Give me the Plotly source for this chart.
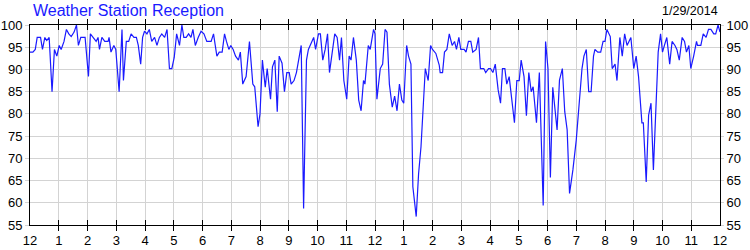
import plotly.graph_objects as go

# minutes after midnight
minutes = [
    0, 6, 11, 15, 22, 26, 31, 35, 40, 46, 51, 56, 61, 65, 71, 76, 81, 86, 92, 97,
    101, 106, 115, 122, 126, 132, 138, 142, 145, 150, 156, 163, 165, 169, 175, 179, 186, 192, 195, 201,
    206, 211, 217, 222, 226, 231, 235, 239, 244, 249, 254, 260, 265, 270, 275, 281, 286, 291, 296, 301,
    306, 312, 317, 321, 326, 331, 336, 340, 345, 351, 357, 363, 369, 378, 383, 390, 395, 401, 406, 410,
    415, 419, 424, 429, 435, 439, 444, 451, 458, 465, 469, 476,
    480, 485, 491, 495, 502, 506, 511, 516, 520, 526, 531, 536, 541, 545, 551, 556, 561, 566, 571, 577,
    581, 587, 592, 596, 602, 606, 611, 616, 621, 625, 631, 636, 641, 646, 650, 655, 661, 666, 670, 675,
    681, 686, 691, 696, 699, 706, 710, 717, 720, 724, 731, 736, 741, 745, 750, 756, 761, 766, 771, 776,
    780, 786, 790, 795, 799, 806, 811, 816, 821, 825, 831, 836, 840, 847, 854, 856, 861, 865, 870, 875,
    881, 886, 890, 895, 899, 906, 910, 915, 920, 924, 931, 936, 940, 947, 951, 957,
    961, 966, 971, 977, 982, 986, 991, 995, 1000, 1006, 1011, 1016, 1021, 1025, 1031, 1036, 1041, 1046, 1050, 1057,
    1063, 1071, 1076, 1081, 1086, 1091, 1096, 1100, 1105, 1111, 1116, 1121, 1126, 1133, 1140, 1147, 1152, 1156, 1161, 1166,
    1171, 1176, 1179, 1185, 1191, 1196, 1200, 1204, 1211, 1215, 1221, 1225, 1231, 1236, 1241, 1246, 1254, 1260, 1265, 1270,
    1277, 1280, 1286, 1291, 1296, 1301, 1307, 1311, 1316, 1320, 1324, 1329, 1335, 1340, 1346, 1350, 1355, 1361, 1366, 1370,
    1375, 1379, 1385, 1391, 1393, 1400, 1405, 1411, 1416, 1421, 1427, 1431, 1436, 1440,
]

reception = [
    93.9, 93.9, 94.5, 97.2, 97.2, 94.5, 97.2, 96.5, 97.2, 85, 94.5, 93, 95.4, 94.5, 96.3, 99, 98, 97.4, 98.4, 100,
    95.4, 97.2, 97.2, 88.4, 98, 97, 96.3, 97.2, 94.5, 97.2, 96.3, 96.3, 97.2, 93.9, 95.4, 94.5, 85, 99, 87.5, 96.3,
    96.3, 98, 97.2, 97.2, 95.4, 91.2, 97.2, 98.6, 98, 99, 96.3, 97.2, 95.4, 97.2, 98, 97.2, 99, 90.2, 90.2, 92.7,
    98, 95.4, 100, 97.2, 97.2, 98, 97.2, 99, 95.4, 97.2, 98.6, 98, 96.3, 96.3, 98, 93, 93.9, 93.9, 98, 96.3,
    94.5, 95.4, 94.5, 93, 92.1, 93.9, 86.7, 88.4, 96.3, 86.7, 86.1, 77.1,
    80, 92.1, 86, 90.2, 83.3, 90.6, 92.1, 80.5, 93, 91.4, 85, 89.3, 89.3, 86.7, 87.5, 89.3, 92.1, 95.4, 58.7, 92.1,
    94.5, 95.9, 97.2, 94.5, 98, 98, 92.1, 94.5, 98, 89.3, 94.5, 98, 97.2, 92.1, 97.2, 87.5, 83.3, 93, 92.1, 97.2,
    92.1, 83.1, 80.7, 87.5, 86.7, 95.4, 94.5, 99, 98, 83.3, 90.2, 91.2, 99, 98.4, 86.7, 81.5, 84, 80.7, 86.7, 83.1,
    82.4, 95.4, 93, 91.2, 63.6, 56.9, 66.6, 72.6, 82.4, 90.2, 87.5, 95.4, 94.5, 93.6, 91, 89.3, 89.3, 93.9, 94.5, 98,
    95.4, 96.3, 94.5, 97.2, 94.5, 94.5, 93.9, 96.3, 96.3, 93.9, 94.5, 97.2, 90.2, 90.2, 89.3, 90.2,
    90.2, 89.3, 91.2, 85.4, 82.4, 90.2, 90.2, 86.7, 88.4, 82.4, 78, 87.5, 87.5, 92.1, 88.4, 79.6, 89.3, 85, 86.1, 78,
    89.3, 59.4, 96.3, 90.2, 65.7, 86, 80, 76.4, 87.6, 90.2, 80.5, 76.4, 62.1, 67.4, 74.1, 83.9, 90.2, 93, 94.5, 85,
    85, 93, 94.5, 93.9, 93.9, 96.3, 96.3, 99, 97.4, 90.2, 91.2, 87.5, 97.2, 93, 98, 95.4, 97.2, 90.2, 93, 88.4,
    78, 78, 64.7, 79.7, 82.4, 67.4, 83.1, 93.9, 98, 93.9, 95.4, 97.2, 91.2, 96.3, 95.4, 94.5, 92.1, 97.2, 96.3, 93.9,
    95.4, 90.2, 93, 96.3, 95.4, 95.4, 98, 97.2, 99, 99, 98, 98, 100, 98.4,
]

hour_ticks = list(range(0, 1441, 60))
hour_labels = ["12", "1", "2", "3", "4", "5", "6", "7", "8", "9", "10", "11",
               "12", "1", "2", "3", "4", "5", "6", "7", "8", "9", "10", "11", "12"]
y_ticks = [55, 60, 65, 70, 75, 80, 85, 90, 95, 100]

title_text = "Weather Station Reception"
date_text = "1/29/2014"

FONT = "Liberation Sans, Arial, sans-serif"
GRID = "#d3d3d3"
TICKFONT = dict(family=FONT, size=13, color="black")

fig = go.Figure()
fig.add_trace(go.Scatter(x=minutes, y=reception, mode="lines",
                         line=dict(color="#1a1aff", width=1.2), showlegend=False))
# invisible trace to carry right axis
fig.add_trace(go.Scatter(x=[minutes[0]], y=[reception[0]], yaxis="y2", mode="lines",
                         line=dict(width=0), showlegend=False, hoverinfo="skip"))

fig.update_layout(
    width=750, height=250,
    margin=dict(l=30, r=30, t=25, b=25, autoexpand=False),
    paper_bgcolor="white", plot_bgcolor="white",
    font=dict(family=FONT, size=12, color="black"),
    xaxis=dict(range=[0, 1440], tickmode="array", tickvals=hour_ticks, ticktext=hour_labels,
               showgrid=True, gridcolor=GRID, gridwidth=1,
               ticks="inside", ticklen=5, tickcolor="black", tickwidth=1,
               showline=True, linecolor="black", linewidth=1, mirror="allticks",
               zeroline=False, automargin=False, ticklabelstandoff=3, tickfont=TICKFONT),
    yaxis=dict(range=[55, 100], tickmode="array", tickvals=y_ticks,
               showgrid=True, gridcolor=GRID, gridwidth=1,
               ticks="outside", ticklen=4, tickcolor=GRID,
               showline=True, linecolor="black", linewidth=1, mirror=True,
               zeroline=False, automargin=False, tickfont=TICKFONT),
    yaxis2=dict(range=[55, 100], tickmode="array", tickvals=y_ticks, overlaying="y", side="right",
                showgrid=False, ticks="outside", ticklen=3, tickcolor=GRID,
                showline=False, zeroline=False, automargin=False,
                tickfont=TICKFONT),
    annotations=[
        dict(text=title_text, xref="paper", yref="paper", x=(31 - 30) / 690, y=1 + 15 / 200,
             xanchor="left", yanchor="middle", showarrow=False,
             font=dict(family=FONT, size=16, color="#1a1aff")),
        dict(text=date_text, xref="paper", yref="paper", x=1 - 0 / 690, y=1 + 14 / 200,
             xanchor="right", yanchor="middle", showarrow=False,
             font=dict(family=FONT, size=12.5, color="black")),
    ],
)

fig.write_html("out.html")
